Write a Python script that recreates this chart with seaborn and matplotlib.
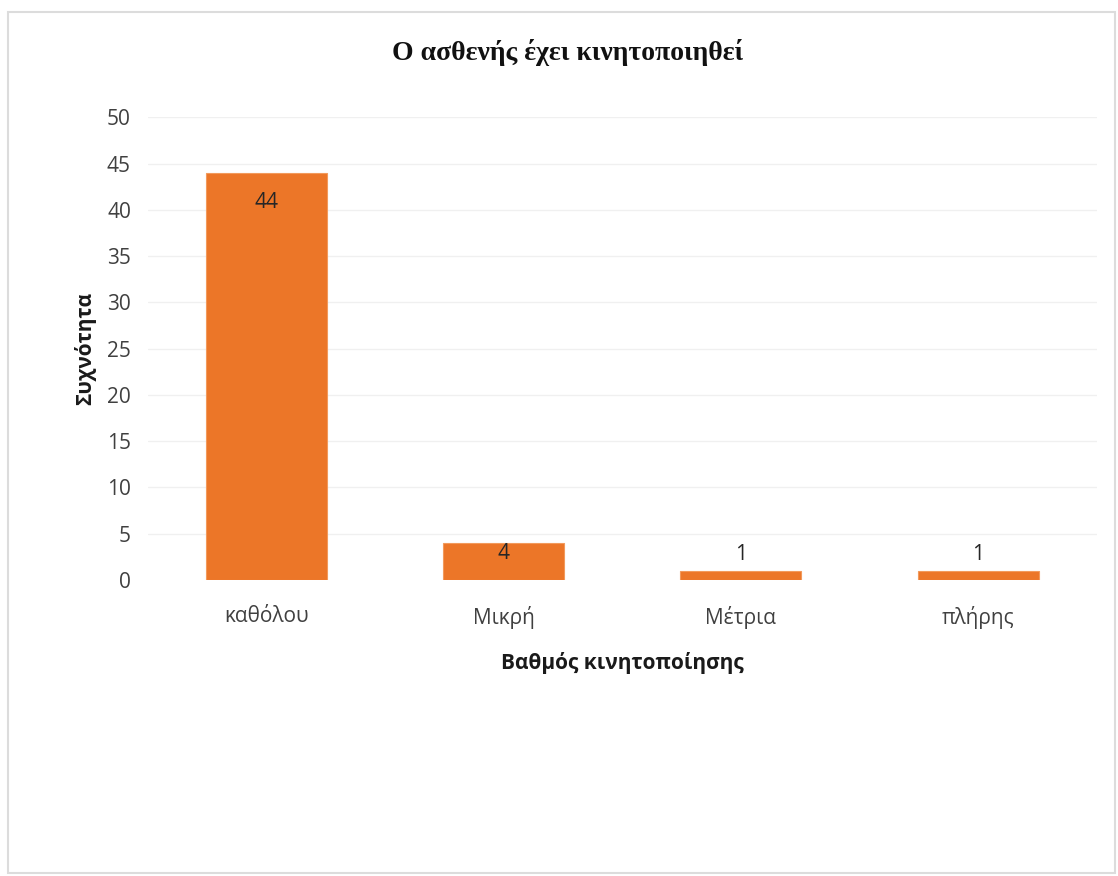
import matplotlib
matplotlib.use("Agg")
import matplotlib.pyplot as plt
import seaborn as sns
import pandas as pd
from matplotlib.patches import Rectangle

categories = ["καθόλου", "Μικρή", "Μέτρια", "πλήρης"]
values = [44, 4, 1, 1]
yticks = [0, 5, 10, 15, 20, 25, 30, 35, 40, 45, 50]
title = "Ο ασθενής έχει κινητοποιηθεί"
xlabel = "Βαθμός κινητοποίησης"
ylabel = "Συχνότητα"

sns.set_theme(style="white")
sans = ["Open Sans", "DejaVu Sans"]
plt.rcParams["font.family"] = sans

df = pd.DataFrame({"cat": categories, "val": values})

fig = plt.figure(figsize=(11.18, 8.76), dpi=100)
ax = fig.add_axes([0.132, 0.338, 0.849, 0.528])

# figure border
fig.patches.append(Rectangle((0.007, 0.003), 0.99, 0.983, transform=fig.transFigure,
                             fill=False, edgecolor="#dcdcdc", linewidth=1.5))

for y in yticks[1:]:
    ax.axhline(y, color="#f0f0f0", linewidth=1, zorder=0)

sns.barplot(data=df, x="cat", y="val", color="#EC7628", width=0.51,
            saturation=1, ax=ax, zorder=2, edgecolor="#F29A5C", linewidth=0.8)

for i, v in enumerate(values):
    if v > 10:
        ax.annotate(str(v), (i, v), xytext=(0, -14), textcoords="offset points",
                    ha="center", va="top", fontsize=15, color="#262626")
    elif v > 2:
        ax.annotate(str(v), (i, v), xytext=(0, 0), textcoords="offset points",
                    ha="center", va="top", fontsize=15, color="#262626")
    else:
        ax.annotate(str(v), (i, v), xytext=(0, 4), textcoords="offset points",
                    ha="center", va="bottom", fontsize=15, color="#262626")

ax.set_ylim(0, 50)
ax.set_xlim(-0.5, 3.5)
ax.set_yticks(yticks)
ax.set_yticklabels([str(t) for t in yticks], fontsize=15, color="#404040")
ax.set_xticks(range(len(categories)))
ax.set_xticklabels(categories, fontsize=15, color="#404040")
ax.tick_params(axis="y", length=0, pad=12)
ax.tick_params(axis="x", length=0, pad=19)
for s in ax.spines.values():
    s.set_visible(False)

ax.set_xlabel(xlabel, fontsize=15, fontweight="bold", color="#1a1a1a", labelpad=16)
ax.set_ylabel(ylabel, fontsize=15, fontweight="bold", color="#1a1a1a", labelpad=8)
fig.text(0.508, 0.940, title, ha="center", va="center", fontsize=20,
         fontweight="bold", family=["Liberation Serif", "DejaVu Serif"], color="#111111")

fig.savefig("out.png", dpi=100, facecolor="white")
